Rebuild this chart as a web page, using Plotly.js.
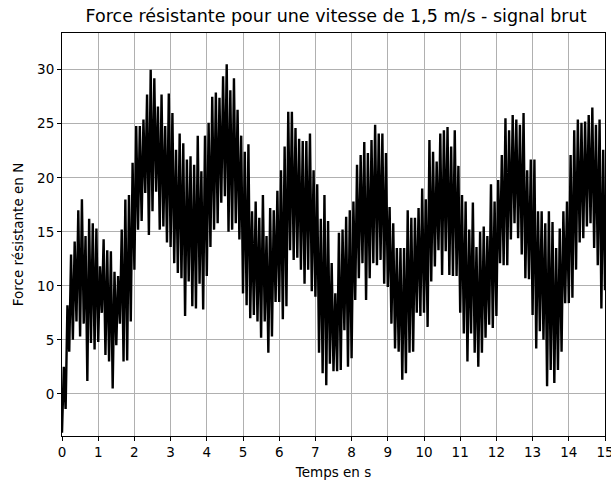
<!DOCTYPE html>
<html>
<head>
<meta charset="utf-8">
<script src="https://cdn.plot.ly/plotly-3.0.1.min.js"></script>
<style>html,body{margin:0;padding:0;background:#fff;}#chart{width:611px;height:483px;}</style>
</head>
<body>
<div id="chart"></div>
<script>
// Sampling step of the raw signal (s)
const sampleStep = 0.05;

// Local minima of the raw signal, read at t = 0, 0.1, 0.2, ... 15.0 s (N)
const troughs = [
  -3.6, -1.4, 3.9, 5.0, 6.7, 5.3, 6.5, 1.2, 4.7, 4.1,
  4.8, 7.5, 3.6, 3.0, 0.5, 4.5, 6.5, 3.0, 3.1, 6.7,
  11.5, 15.2, 16.0, 18.6, 14.7, 16.9, 18.7, 15.2, 15.5, 14.0,
  13.6, 12.1, 11.2, 10.7, 7.2, 10.4, 8.1, 7.9, 10.2, 7.8,
  10.9, 13.6, 15.2, 15.8, 17.7, 18.3, 15.0, 15.2, 15.8, 14.3,
  9.3, 8.2, 7.0, 7.3, 6.7, 5.2, 6.7, 3.8, 5.3, 8.5,
  8.5, 6.9, 8.1, 13.3, 12.4, 12.6, 11.5, 10.2, 11.5, 9.5,
  9.0, 3.8, 1.9, 0.8, 2.8, 2.1, 2.1, 2.2, 5.9, 2.5,
  3.3, 8.7, 10.7, 12.1, 8.7, 10.7, 12.1, 11.9, 12.4, 10.2,
  9.9, 6.5, 4.2, 3.9, 1.3, 1.9, 3.8, 3.9, 7.5, 7.2,
  7.5, 6.2, 10.4, 11.8, 13.3, 11.0, 13.2, 11.0, 10.9, 10.9,
  7.5, 5.6, 3.0, 5.6, 3.8, 2.5, 3.8, 5.2, 6.4, 6.1,
  7.2, 12.1, 11.9, 11.9, 14.3, 15.8, 14.4, 12.9, 10.7, 10.6,
  7.3, 4.2, 5.8, 5.0, 0.7, 2.2, 1.0, 2.2, 3.9, 8.4,
  8.4, 8.9, 11.5, 14.0, 14.4, 15.5, 15.8, 13.5, 11.9, 7.9,
  9.6
];

// Local maxima of the raw signal, read at t = 0.05, 0.15, ... 14.95 s (N)
const peaks = [
  2.5, 8.2, 12.9, 14.1, 17.0, 18.0, 14.6, 16.2, 15.8, 15.3,
  11.8, 14.3, 13.3, 13.2, 11.3, 10.9, 15.2, 18.0, 18.4, 21.4,
  24.8, 24.8, 25.4, 27.7, 30.0, 29.2, 26.6, 27.7, 24.8, 27.8,
  26.0, 22.6, 24.1, 23.2, 21.7, 22.0, 21.2, 23.9, 20.6, 23.9,
  25.1, 27.5, 27.9, 27.4, 29.4, 30.5, 28.1, 29.2, 26.3, 23.9,
  22.4, 23.1, 16.9, 17.8, 16.3, 18.4, 14.6, 17.2, 17.0, 18.8,
  20.7, 22.9, 26.1, 26.1, 24.6, 23.6, 23.4, 23.4, 24.1, 20.7,
  19.4, 16.2, 18.4, 16.0, 12.1, 9.3, 14.9, 15.2, 16.4, 17.0,
  17.8, 21.2, 22.1, 23.3, 22.3, 23.5, 24.9, 24.1, 24.1, 22.3,
  17.3, 15.8, 13.5, 13.5, 13.5, 17.0, 16.3, 16.3, 17.2, 19.0,
  18.0, 23.5, 22.4, 21.5, 24.1, 24.4, 24.7, 22.9, 24.4, 21.1,
  18.4, 17.8, 15.2, 17.7, 13.6, 15.0, 15.5, 14.6, 19.4, 17.8,
  19.8, 22.1, 25.5, 24.4, 25.8, 25.4, 24.9, 26.0, 20.7, 21.7,
  21.7, 16.9, 16.9, 15.8, 16.9, 15.9, 13.5, 15.3, 16.9, 17.8,
  22.1, 24.4, 25.4, 25.1, 25.2, 25.8, 26.5, 24.9, 25.4, 22.6
];

const xTickVals = [0,1,2,3,4,5,6,7,8,9,10,11,12,13,14,15];
const yTickVals = [0,5,10,15,20,25,30];

// Rebuild the raw sample sequence: trough, peak, trough, peak, ...
const force = [];
for (let i = 0; i < troughs.length; i++) {
  force.push(troughs[i]);
  if (i < peaks.length) force.push(peaks[i]);
}
const time = force.map((_, i) => +(i * sampleStep).toFixed(3));

const font = "DejaVu Sans, Liberation Sans, sans-serif";

Plotly.newPlot('chart', [{
  x: time, y: force, type: 'scatter', mode: 'lines',
  line: {color: '#000000', width: 2.4},
  hoverinfo: 'none'
}], {
  width: 611, height: 483,
  margin: {l: 62, r: 6, t: 33, b: 47},
  paper_bgcolor: '#ffffff', plot_bgcolor: '#ffffff',
  showlegend: false,
  title: {text: 'Force résistante pour une vitesse de 1,5 m/s - signal brut',
          font: {family: font, size: 17.5, color: '#000'},
          x: 0.55, xanchor: 'center', y: 0.968, yanchor: 'middle'},
  xaxis: {
    range: [0, 15], tickvals: xTickVals, ticktext: xTickVals.map(String),
    ticks: 'outside', ticklen: 4, tickwidth: 1, tickcolor: '#000',
    ticklabeloverflow: 'allow',
    showline: true, mirror: true, linecolor: '#000', linewidth: 1,
    showgrid: true, gridcolor: '#b0b0b0', gridwidth: 1, zeroline: false,
    tickfont: {family: font, size: 13.5, color: '#000'},
    title: {text: 'Temps en s', font: {family: font, size: 13.5, color: '#000'}, standoff: 8}
  },
  yaxis: {
    range: [-3.9, 33.4], tickvals: yTickVals, ticktext: yTickVals.map(String),
    ticks: 'outside', ticklen: 4, tickwidth: 1, tickcolor: '#000',
    showline: true, mirror: true, linecolor: '#000', linewidth: 1,
    showgrid: true, gridcolor: '#b0b0b0', gridwidth: 1, zeroline: false,
    tickfont: {family: font, size: 13.5, color: '#000'},
    title: {text: 'Force résistante en N', font: {family: font, size: 13.5, color: '#000'}, standoff: 10}
  }
}, {staticPlot: true});
</script>
</body>
</html>
